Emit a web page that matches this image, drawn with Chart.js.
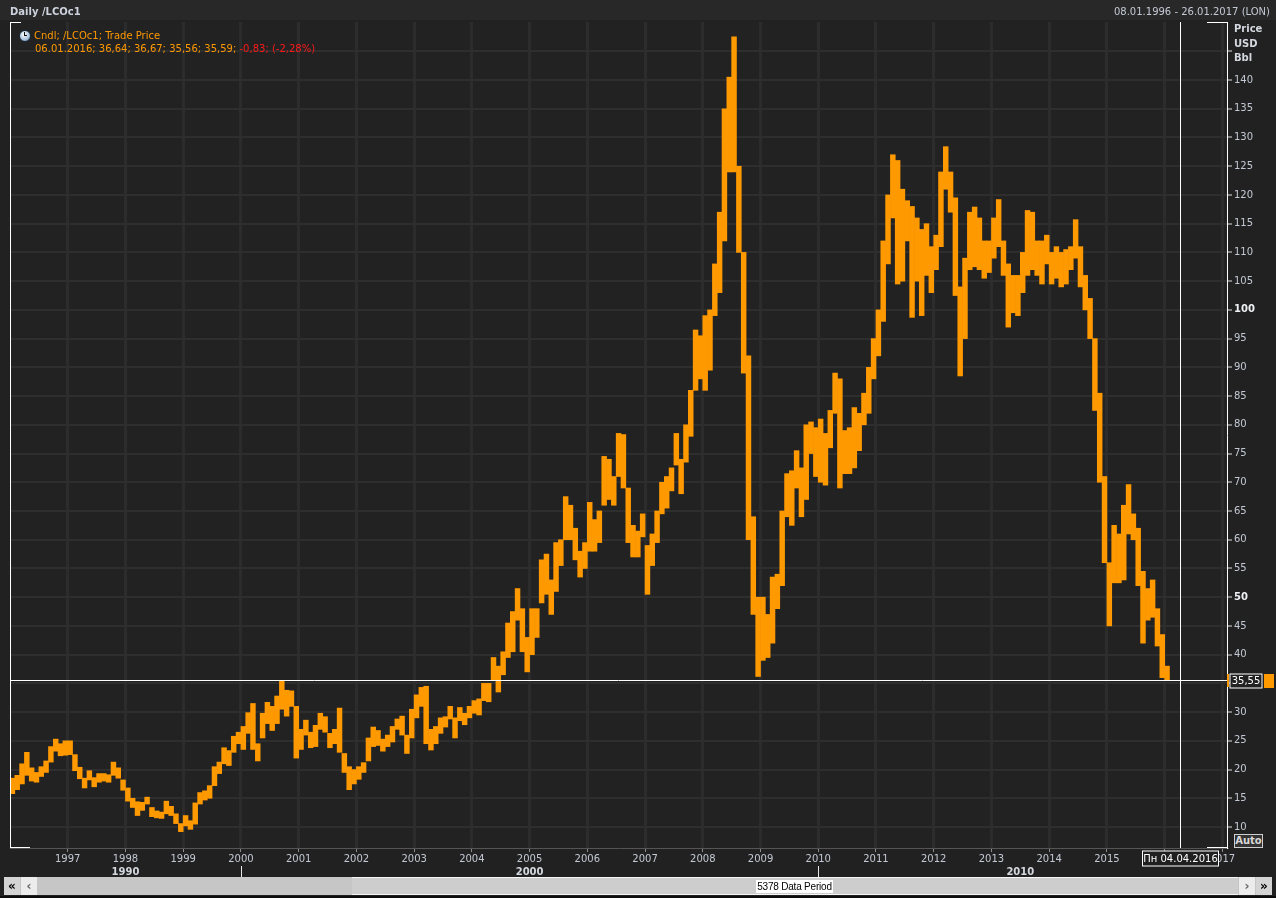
<!DOCTYPE html>
<html>
<head>
<meta charset="utf-8">
<script src="https://cdn.jsdelivr.net/npm/chart.js@4.4.0/dist/chart.umd.min.js"></script>
<style>
  body { margin: 0; background: #212121; width: 1276px; height: 898px; overflow: hidden; font-family: "DejaVu Sans", sans-serif; }
  #wrap { position: absolute; left: 0; top: 0; width: 1276px; height: 898px; }
  .t { position: absolute; white-space: nowrap; font-size: 10px; line-height: 12px; }
  .b { font-weight: bold; }
  .sb { position: absolute; top: 877px; height: 18px; }
  .btn { position: absolute; top: 877px; width: 16px; height: 18px; font-size: 12px; line-height: 18px; text-align: center; font-weight: bold; }
</style>
</head>
<body>
<div id="wrap"><canvas id="oil"></canvas></div>

<!-- header -->
<div class="t b" style="left:10px;top:6px;color:#cdd3de;">Daily /LCOc1</div>
<div class="t" style="right:6px;top:6px;color:#c3c9d4;">08.01.1996 - 26.01.2017 (LON)</div>

<!-- legend -->
<div style="position:absolute;left:19px;top:30px;width:10px;height:10px;border-radius:50%;border:1px solid #1b2a3a;
  background:radial-gradient(circle at 40% 35%, #ffffff, #a9c3dc 60%, #4b6a8c);"></div>
<div style="position:absolute;left:24px;top:32px;width:1px;height:4px;background:#111;"></div>
<div style="position:absolute;left:24px;top:35px;width:3px;height:1px;background:#111;"></div>
<div class="t" style="left:34px;top:30px;color:#ff9900;">Cndl; /LCOc1; Trade Price</div>
<div class="t" style="left:35px;top:43px;color:#ff9900;">06.01.2016; 36,64; 36,67; 35,56; 35,59; <span style="color:#ff1a1a;">-0,83; (-2,28%)</span></div>

<!-- price axis title -->
<div class="t b" style="left:1234px;top:22px;color:#d3d7de;line-height:14.5px;">Price<br>USD<br>Bbl</div>
<div class="t b" style="left:1234px;top:834px;width:27px;height:12px;border:1px solid #cfcfcf;background:#333;color:#d8d8d8;text-align:center;">Auto</div>

<!-- scroll bar -->
<div class="sb" style="left:4px;width:1268px;background:#c6c6c6;"></div>
<div class="sb" style="left:352px;width:886px;height:16px;background:#cdcdcd;border-top:1px solid #f6f6f6;border-bottom:1px solid #f6f6f6;"></div>
<div class="btn" style="left:4px;background:#d4d4d4;color:#000;">&laquo;</div>
<div class="btn" style="left:21px;background:#ececec;color:#666;">&lsaquo;</div>
<div class="btn" style="left:1239px;background:#ececec;color:#666;">&rsaquo;</div>
<div class="btn" style="left:1256px;background:#d4d4d4;color:#000;">&raquo;</div>
<div class="t" style="left:756px;top:880px;width:77px;height:13px;line-height:13px;background:#fff;color:#000;text-align:center;font-family:'Liberation Sans',sans-serif;font-size:10px;letter-spacing:-0.2px;">5378 Data Period</div>
<div style="position:absolute;left:0;top:896px;width:1276px;height:2px;background:#0c0c0c;"></div>

<script>
// Brent monthly low / high, Jan 1996 .. Jan 2016
const startYear = 1996;
const lowPrices = [
  15.8, 16.5, 17.5, 19.0, 18.0, 17.8, 18.8, 19.5, 21.3, 23.2, 22.4, 22.5, // 1996
  22.6, 19.8, 18.4, 16.8, 18.2, 17.0, 17.8, 18.0, 17.8, 19.0, 18.5, 16.4, // 1997
  14.5, 13.4, 12.0, 12.9, 14.0, 11.8, 11.6, 11.5, 12.3, 12.0, 10.6, 9.2,  // 1998
  10.2, 9.6, 10.5, 14.0, 14.7, 15.0, 17.2, 19.3, 21.0, 20.7, 23.0, 24.5,  // 1999
  23.5, 26.3, 23.5, 21.5, 25.5, 28.0, 26.8, 28.0, 30.5, 29.3, 31.0, 22.0, // 2000
  23.5, 26.0, 23.8, 24.0, 27.0, 26.5, 23.8, 24.5, 23.0, 19.5, 16.5, 17.5, // 2001
  18.3, 19.5, 21.5, 24.0, 24.2, 23.2, 24.0, 24.8, 27.0, 26.0, 22.8, 25.5, // 2002
  29.0, 31.0, 24.5, 23.4, 24.5, 26.3, 27.4, 28.8, 25.5, 28.5, 27.8, 29.0, // 2003
  29.8, 29.5, 32.0, 31.8, 35.5, 33.5, 36.5, 39.5, 40.5, 46.0, 40.5, 37.0, // 2004
  40.0, 43.0, 49.0, 50.5, 47.0, 51.0, 55.5, 60.0, 60.0, 56.5, 53.5, 55.0, // 2005
  58.0, 58.0, 59.5, 66.0, 67.0, 66.0, 71.0, 69.0, 59.5, 57.0, 57.0, 60.5, // 2006
  50.5, 55.5, 59.5, 64.5, 65.5, 68.5, 73.0, 68.0, 73.5, 78.0, 86.0, 88.0, // 2007
  86.0, 89.5, 99.0, 103.0, 112.0, 124.0, 124.0, 110.0, 89.0, 60.0, 47.0, 36.2, // 2008
  39.0, 39.5, 42.0, 48.0, 52.0, 64.0, 62.5, 69.0, 64.0, 67.0, 75.0, 71.0, // 2009
  70.0, 69.5, 76.0, 82.0, 69.0, 71.5, 71.5, 72.5, 75.5, 80.0, 82.0, 88.0, // 2010
  92.0, 98.0, 108.0, 116.0, 104.5, 105.0, 112.0, 98.7, 105.0, 99.0, 106.0, 103.0, // 2011
  107.0, 111.0, 121.0, 117.0, 102.5, 88.5, 95.0, 107.0, 107.5, 107.0, 105.5, 106.5, // 2012
  109.0, 111.0, 106.0, 97.0, 99.5, 99.0, 103.0, 106.0, 107.0, 106.0, 104.5, 108.0, // 2013
  104.5, 105.5, 104.0, 104.5, 107.0, 109.0, 104.0, 100.0, 95.0, 82.5, 70.0, 56.0, // 2014
  45.0, 52.5, 52.5, 53.0, 61.0, 60.0, 52.0, 42.0, 46.0, 46.5, 41.5, 36.0, // 2015
  35.56 // 2016
];
const highPrices = [
  18.5, 19.0, 21.0, 23.0, 20.3, 19.5, 20.5, 21.5, 24.0, 25.3, 24.5, 25.0,
  25.0, 22.6, 20.4, 18.5, 19.8, 18.6, 19.3, 19.3, 19.1, 21.3, 20.3, 18.2,
  16.8, 15.0, 14.4, 14.3, 15.2, 13.4, 12.8, 12.6, 14.5, 13.6, 12.3, 10.6,
  12.0, 11.1, 14.2, 16.0, 16.3, 17.2, 20.5, 21.3, 23.8, 23.3, 25.8, 26.5,
  27.5, 29.9, 31.5, 24.5, 29.8, 31.7, 31.0, 32.8, 35.5, 33.8, 33.7, 31.0,
  27.0, 28.6, 26.5, 27.7, 29.8, 29.2, 26.3, 27.0, 30.7, 22.8, 20.5, 20.0,
  20.5, 21.2, 25.5, 27.4, 26.8, 25.3, 26.0, 27.5, 28.8, 29.3, 26.0, 30.5,
  33.0, 34.3, 34.5, 27.0, 27.5, 29.0, 29.2, 31.0, 29.0, 30.8, 29.8, 31.0,
  32.0, 32.3, 35.0, 35.0, 39.5, 38.0, 40.5, 45.5, 47.5, 51.5, 48.0, 43.0,
  48.0, 48.0, 56.5, 57.5, 53.0, 59.5, 60.0, 67.5, 66.0, 62.0, 58.0, 59.5,
  66.5, 63.5, 65.0, 74.5, 74.0, 71.0, 78.5, 78.3, 69.0, 62.5, 61.5, 64.5,
  59.0, 61.0, 65.0, 70.0, 71.0, 72.5, 78.5, 74.0, 80.0, 86.0, 96.5, 95.5,
  99.0, 100.0, 108.0, 117.0, 135.0, 140.5, 147.5, 125.0, 110.0, 92.0, 64.0, 50.0,
  50.0, 47.0, 53.5, 54.0, 65.0, 71.5, 72.0, 75.5, 72.5, 80.0, 80.5, 79.5,
  81.0, 78.5, 82.5, 89.0, 88.0, 79.0, 79.5, 83.0, 82.0, 85.5, 90.0, 95.0,
  100.0, 112.0, 120.0, 127.0, 126.0, 121.0, 119.0, 118.0, 116.0, 114.0, 115.0, 111.0,
  113.0, 124.0, 128.4, 124.0, 119.5, 104.0, 109.0, 117.0, 117.9, 116.0, 112.0, 112.0,
  116.0, 119.2, 112.0, 108.0, 106.0, 106.0, 110.0, 117.3, 117.0, 112.0, 112.0, 113.0,
  110.0, 111.0, 110.0, 110.5, 111.0, 115.7, 111.0, 106.0, 102.0, 95.0, 85.5, 71.0,
  56.0, 62.5, 61.0, 66.0, 69.6, 64.5, 62.0, 54.5, 51.5, 53.0, 48.0, 43.5,
  38.0
];
const priceTicks = [10, 15, 20, 25, 30, 35, 40, 45, 50, 55, 60, 65, 70, 75, 80, 85, 90, 95, 100, 105, 110, 115, 120, 125, 130, 135, 140, 145];
const boldPrices = [50, 100];
const yearTicks = [1997, 1998, 1999, 2000, 2001, 2002, 2003, 2004, 2005, 2006, 2007, 2008, 2009, 2010, 2011, 2012, 2013, 2014, 2015, 2016, 2017];
const decadeLabels = ["1990", "2000", "2010"];
const decadeLabelYears = [1998, 2005, 2013.5];
const decadeTickYears = [2000, 2010];
const lastPrice = 35.55;
const cursorYear = 2016.26;
const cursorLabel = "Пн 04.04.2016";

const orange = "#ff9900";
const axisText = "#c3c9d4";
const fontFamily = "'DejaVu Sans', sans-serif";

const candles = lowPrices.map((lo, i) => ({
  x: startYear + (i + 0.5) / 12,
  y: [lo, highPrices[i]],
}));

function isBold(c) {
  return !!(c && c.tick && boldPrices.includes(c.tick.value));
}

// backgrounds under the plot
const backdrop = {
  id: "backdrop",
  beforeDraw(chart) {
    const { ctx, chartArea: a } = chart;
    ctx.save();
    ctx.fillStyle = "#212121";
    ctx.fillRect(0, 0, chart.width, chart.height);
    ctx.fillStyle = "#282828";
    ctx.fillRect(0, 0, chart.width, 20);
    ctx.fillStyle = "#222222";
    ctx.fillRect(a.left, a.top, a.right - a.left, a.bottom - a.top);
    ctx.restore();
  },
};

// frame corners, cross-hair and its labels, decade row
const overlay = {
  id: "overlay",
  afterDraw(chart) {
    const { ctx, chartArea: a, scales } = chart;
    const px = Math.round(scales.x.getPixelForValue(cursorYear)) + 0.5;
    const py = Math.round(scales.y.getPixelForValue(lastPrice)) + 0.5;
    ctx.save();
    ctx.strokeStyle = "#ffffff";
    ctx.lineWidth = 1;
    ctx.beginPath();
    ctx.moveTo(a.left + 0.5, a.top);
    ctx.lineTo(a.left + 0.5, a.bottom);
    ctx.moveTo(a.left, a.top + 0.5);
    ctx.lineTo(a.left + 11, a.top + 0.5);
    ctx.moveTo(a.right - 20, a.top + 0.5);
    ctx.lineTo(a.right, a.top + 0.5);
    ctx.moveTo(a.left, a.bottom - 0.5);
    ctx.lineTo(a.left + 20, a.bottom - 0.5);
    ctx.moveTo(a.right - 20, a.bottom - 0.5);
    ctx.lineTo(a.right, a.bottom - 0.5);
    // cross-hair
    ctx.moveTo(a.left, py);
    ctx.lineTo(a.right, py);
    ctx.moveTo(px, a.top);
    ctx.lineTo(px, a.bottom);
    ctx.stroke();

    ctx.font = "10px " + fontFamily;
    ctx.textBaseline = "middle";
    ctx.textAlign = "center";

    // last price box
    ctx.fillStyle = orange;
    ctx.fillRect(a.right, py - 6.5, 2, 13);
    ctx.fillRect(a.right + 37, py - 6.5, 10, 14);
    ctx.fillStyle = "#222222";
    ctx.fillRect(a.right + 3, py - 6.5, 32, 14);
    ctx.strokeRect(a.right + 3, py - 6.5, 32, 14);
    ctx.fillStyle = "#ffffff";
    ctx.fillText(lastPrice.toFixed(2).replace(".", ","), a.right + 19, py + 0.5);

    // cursor date box
    ctx.fillStyle = "#202020";
    ctx.fillRect(px - 38, a.bottom + 3, 76, 15);
    ctx.strokeRect(px - 38, a.bottom + 3, 76, 15);
    ctx.fillStyle = "#ffffff";
    ctx.fillText(cursorLabel, px, a.bottom + 11);

    // decade row
    ctx.beginPath();
    decadeTickYears.forEach((yr) => {
      const x = Math.round(scales.x.getPixelForValue(yr)) + 0.5;
      ctx.moveTo(x, a.bottom + 18);
      ctx.lineTo(x, a.bottom + 29);
    });
    ctx.strokeStyle = "#e8e8e8";
    ctx.stroke();
    ctx.font = "bold 10px " + fontFamily;
    ctx.fillStyle = "#d3d7de";
    decadeLabels.forEach((lab, i) => {
      ctx.fillText(lab, scales.x.getPixelForValue(decadeLabelYears[i]), a.bottom + 24);
    });
    ctx.restore();
  },
};

new Chart(document.getElementById("oil"), {
  type: "bar",
  data: {
    datasets: [
      {
        label: "Cndl; /LCOc1; Trade Price",
        data: candles,
        backgroundColor: orange,
        borderWidth: 0,
        barPercentage: 1,
        categoryPercentage: 1,
      },
    ],
  },
  options: {
    responsive: true,
    maintainAspectRatio: false,
    animation: false,
    events: [],
    layout: { padding: { left: 10, top: 22, right: 0, bottom: 32 } },
    plugins: { legend: { display: false }, tooltip: { enabled: false } },
    scales: {
      x: {
        type: "linear",
        offset: false,
        min: 1996.0,
        max: 2017.08,
        afterBuildTicks: (s) => {
          s.ticks = yearTicks.map((v) => ({ value: v }));
        },
        afterFit: (s) => {
          s.height = 18;
          s.paddingLeft = 0;
          s.paddingRight = 0;
        },
        ticks: {
          callback: (v) => String(v),
          color: axisText,
          font: { family: fontFamily, size: 10 },
          maxRotation: 0,
          autoSkip: false,
          padding: 1,
        },
        grid: {
          offset: false,
          color: "#2c2c2c",
          lineWidth: 3,
          tickColor: "#8c8c8c",
          tickWidth: 1,
          tickLength: 4,
        },
        border: { color: "#555555", width: 1 },
      },
      y: {
        position: "right",
        min: 6.35,
        max: 150.1,
        afterBuildTicks: (s) => {
          s.ticks = priceTicks.map((v) => ({ value: v }));
        },
        afterFit: (s) => {
          s.width = 49;
          s.paddingTop = 0;
          s.paddingBottom = 0;
        },
        ticks: {
          callback: (v) => (v === 145 ? "" : String(v)),
          color: (c) => (isBold(c) ? "#eef0f4" : axisText),
          font: (c) => ({
            family: fontFamily,
            size: 10,
            weight: isBold(c) ? "bold" : "normal",
          }),
          padding: 2,
        },
        grid: {
          color: "#2e2e2e",
          lineWidth: 2,
          tickColor: "#e0e0e0",
          tickWidth: 1,
          tickLength: 5,
        },
        border: { color: "#ffffff", width: 1 },
      },
    },
  },
  plugins: [backdrop, overlay],
});
</script>
</body>
</html>
